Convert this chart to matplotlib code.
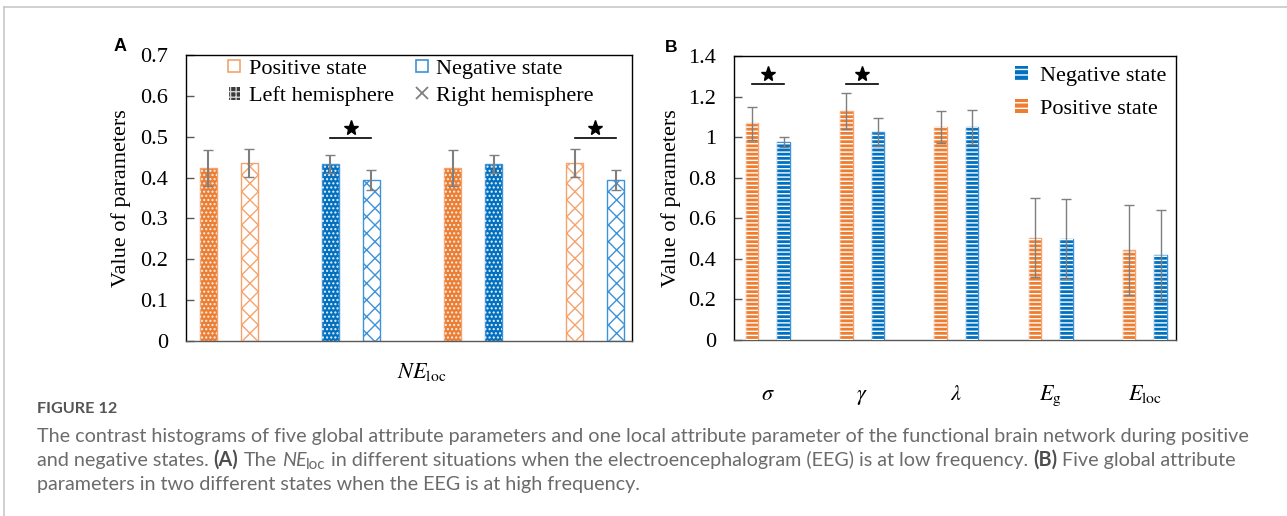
import matplotlib
matplotlib.use("Agg")
import matplotlib.pyplot as plt
import numpy as np
from matplotlib.lines import Line2D
from matplotlib.patches import Patch
from matplotlib.ticker import FuncFormatter

# ---- data ---------------------------------------------------------------
# panel A: NE_loc, 4 comparison pairs (low-frequency EEG)
A_VALUES = [0.423, 0.436, 0.433, 0.394, 0.423, 0.433, 0.436, 0.394]
A_ERRORS = [0.044, 0.034, 0.022, 0.025, 0.044, 0.022, 0.034, 0.025]
A_STATE = ["pos", "pos", "neg", "neg", "pos", "neg", "pos", "neg"]
A_SIDE = ["left", "right", "left", "right", "left", "left", "right", "right"]
A_SIGNIF_PAIRS = [1, 3]

# panel B: five global parameters (high-frequency EEG)
B_PARAMS = [r"$\sigma$", r"$\gamma$", r"$\lambda$", r"$E_{\mathrm{g}}$", r"$E_{\mathrm{loc}}$"]
B_POSITIVE = [1.068, 1.128, 1.050, 0.505, 0.443]
B_POS_ERR = [0.080, 0.089, 0.078, 0.195, 0.221]
B_NEGATIVE = [0.978, 1.024, 1.050, 0.497, 0.417]
B_NEG_ERR = [0.025, 0.068, 0.085, 0.197, 0.226]
B_SIGNIF = [0, 1]

CAPTION_TITLE = "FIGURE 12"
CAPTION_LINE1 = ("The contrast histograms of five global attribute parameters and one local "
                 "attribute parameter of the functional brain network during positive")
CAPTION_LINE3 = "parameters in two different states when the EEG is at high frequency."

ORANGE = "#ED7D31"
ORANGE_LIGHT = "#F5A36C"
BLUE = "#0070C0"
BLUE_LIGHT = "#3D92D8"
ERR_GREY = "#7f7f7f"

W, H = 1287, 516
SERIF = "Liberation Serif"
CAP_FONT = "Lato"

plt.rcParams.update({
    "font.family": SERIF,
    "mathtext.fontset": "stix",
    "font.size": 16,
    "hatch.linewidth": 1.0,
})


def fx(x):
    return x / W


def fy(y):
    return 1 - y / H


def style_axes(ax, ymax, step):
    ax.set_ylim(0, ymax)
    ax.set_yticks(np.arange(0, ymax + 1e-9, step))
    ax.yaxis.set_major_formatter(FuncFormatter(lambda v, _: f"{round(v, 2):g}"))
    ax.tick_params(axis="y", direction="in", length=6, width=1, pad=13,
                   labelsize=16, color="#595959")
    ax.tick_params(axis="x", length=0)
    for sp in ax.spines.values():
        sp.set_linewidth(1.0)
    ax.spines["bottom"].set_color("#595959")
    ax.set_ylabel("Value of parameters", fontsize=16)


def hatched_bar(ax, x, h, err, width, face, edge, hatch, hatch_color, elw=1.5):
    ax.bar(x, h, width, color=face, edgecolor=edge, linewidth=1.0, zorder=2)
    ax.bar(x, h, width, fill=False, edgecolor=hatch_color, hatch=hatch,
           linewidth=0, zorder=3)
    ax.errorbar(x, h, yerr=err, fmt="none", ecolor=ERR_GREY, elinewidth=elw,
                capsize=3.5, capthick=1.0, zorder=4)


def star(ax, x1, x2, y_line, y_star):
    ax.plot([x1, x2], [y_line, y_line], color="black", lw=1.2, zorder=5)
    ax.plot([(x1 + x2) / 2], [y_star], marker="*", ms=11, color="black", zorder=5)


fig = plt.figure(figsize=(W / 100, H / 100), dpi=100)

# ---- panel A ------------------------------------------------------------
axA = fig.add_axes([fx(186), fy(341), fx(446), 286 / H])
off, bw = 0.168, 0.14
for i, (v, e, st, side) in enumerate(zip(A_VALUES, A_ERRORS, A_STATE, A_SIDE)):
    g = i // 2
    x = g + (-off if i % 2 == 0 else off)
    base = ORANGE if st == "pos" else BLUE
    light = ORANGE_LIGHT if st == "pos" else BLUE_LIGHT
    if side == "left":
        hatched_bar(axA, x, v, e, bw, base, light, "....", "#f0f0f0")
    else:
        hatched_bar(axA, x, v, e, bw, "white", light, "xx", light)
for g in A_SIGNIF_PAIRS:
    star(axA, g - off, g + off, 0.496, 0.522)
axA.set_xlim(-0.35, 3.30)
axA.set_xticks([])
style_axes(axA, 0.7, 0.1)
axA.yaxis.set_label_coords((131 - 186) / 446, 0.5)
fig.text(fx(422), fy(372), r"$NE_{\mathrm{loc}}$", ha="center", va="center", fontsize=16)

handles_a = [
    Line2D([], [], marker="s", ls="none", mfc="white", mec=ORANGE_LIGHT, ms=8, mew=1.2),
    Patch(facecolor="#3a3a3a", edgecolor="#d0d0d0", hatch="+++", lw=0),
    Line2D([], [], marker="s", ls="none", mfc="white", mec=BLUE_LIGHT, ms=8, mew=1.2),
    Line2D([], [], marker="x", ls="none", color=ERR_GREY, ms=8, mew=1.3),
]
labels_a = ["Positive state", "Left hemisphere", "Negative state", "Right hemisphere"]
axA.legend(handles_a, labels_a, ncol=2, loc="upper left", bbox_to_anchor=(0.096, 0.985),
           frameon=False, fontsize=16, handlelength=0.5, handleheight=0.5,
           handletextpad=0.4, columnspacing=1.0, labelspacing=0.35,
           borderpad=0, borderaxespad=0)

# ---- panel B ------------------------------------------------------------
axB = fig.add_axes([fx(734), fy(340), fx(442), 284 / H])
xb = np.arange(len(B_PARAMS))
off_b, bw_b = 0.167, 0.133
for i in range(len(B_PARAMS)):
    hatched_bar(axB, xb[i] - off_b, B_POSITIVE[i], B_POS_ERR[i], bw_b,
                ORANGE, ORANGE_LIGHT, "----", "white", elw=1.0)
    hatched_bar(axB, xb[i] + off_b, B_NEGATIVE[i], B_NEG_ERR[i], bw_b,
                BLUE, BLUE_LIGHT, "----", "white", elw=1.0)
for g in B_SIGNIF:
    star(axB, g - off_b, g + off_b, 1.261, 1.313)
axB.set_xlim(-0.36, 4.33)
style_axes(axB, 1.4, 0.2)
axB.set_xticks(xb)
axB.set_xticklabels(B_PARAMS, fontsize=16)
axB.tick_params(axis="x", pad=43)
for lab in axB.get_xticklabels():
    lab.set_va("baseline")
axB.yaxis.set_label_coords((681 - 734) / 442, 0.5)

handles_b = [
    Patch(facecolor=BLUE, edgecolor="white", hatch="---", lw=0),
    Patch(facecolor=ORANGE, edgecolor="white", hatch="---", lw=0),
]
axB.legend(handles_b, ["Negative state", "Positive state"], loc="upper left",
           bbox_to_anchor=(0.636, 0.965), frameon=False, fontsize=16,
           handlelength=0.6, handleheight=0.6, handletextpad=0.5,
           labelspacing=0.6, borderpad=0, borderaxespad=0)

# panel letters
fig.text(fx(120), fy(47), "A", family="Liberation Sans", weight="bold", fontsize=13,
         ha="center", va="center")
fig.text(fx(671), fy(48), "B", family="Liberation Sans", weight="bold", fontsize=12.5,
         ha="center", va="center")

# ---- page frame + caption -----------------------------------------------
fig.add_artist(Line2D([fx(4), 1], [fy(7), fy(7)], transform=fig.transFigure,
                      color="#c8c8c8", lw=1.2))
fig.add_artist(Line2D([fx(4), fx(4)], [0, fy(7)], transform=fig.transFigure,
                      color="#c8c8c8", lw=1.2))

renderer = fig.canvas.get_renderer()


def text_width(s, **kw):
    t = fig.text(0, 0, s, **kw)
    w = t.get_window_extent(renderer).width
    t.remove()
    return w


cap_size = 12 * 1211 / text_width(CAPTION_LINE1, family=CAP_FONT, fontsize=12)
cap_kw = dict(family=CAP_FONT, fontsize=cap_size, color="#6b6b6b", va="baseline")
space_w = text_width("a a", **cap_kw) - text_width("aa", **cap_kw)

fig.text(fx(37), fy(413), CAPTION_TITLE, family=CAP_FONT, weight="bold",
         fontsize=cap_size * 0.82, color="#555555", va="baseline")
fig.text(fx(37), fy(442), CAPTION_LINE1, **cap_kw)
fig.text(fx(37), fy(490), CAPTION_LINE3, **cap_kw)

line2 = [
    ("and negative states.", {}, True),
    ("(A)", {"weight": "bold"}, True),
    ("The", {}, True),
    ("NE", {"style": "italic"}, True),
    ("loc", {"fontsize": cap_size * 0.78, "dy": 3}, False),
    ("in different situations when the electroencephalogram (EEG) is at low frequency.", {}, True),
    ("(B)", {"weight": "bold"}, True),
    ("Five global attribute", {}, True),
]
x = 37
for k, (s, extra, space_before) in enumerate(line2):
    if k > 0 and space_before:
        x += space_w
    kw = dict(cap_kw)
    extra = dict(extra)
    dy = extra.pop("dy", 0)
    kw.update(extra)
    kw["color"] = "#4d4d4d" if kw.get("weight") == "bold" else cap_kw["color"]
    t = fig.text(fx(x), fy(466 + dy), s, **kw)
    x += t.get_window_extent(renderer).width

fig.savefig("out.png", dpi=100)
